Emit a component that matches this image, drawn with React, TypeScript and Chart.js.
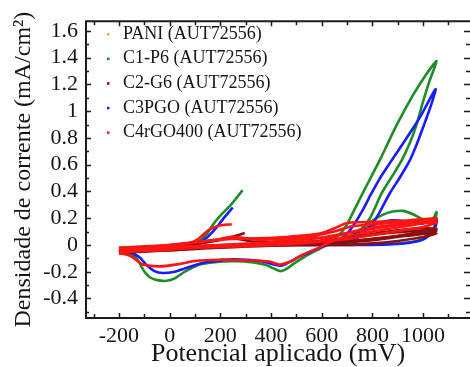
import React, { useEffect, useRef } from 'react';
import { Chart, registerables } from 'chart.js';

Chart.register(...registerables);

// ---------- axis values ----------
const X_TICKS = [-200, 0, 200, 400, 600, 800, 1000];
const X_MARKS = [-300, -200, -100, 0, 100, 200, 300, 400, 500, 600, 700, 800, 900, 1000, 1100];
const Y_TICKS = [-0.4, -0.2, 0, 0.2, 0.4, 0.6, 0.8, 1, 1.2, 1.4, 1.6];
const Y_MARKS = [-0.5, -0.4, -0.3, -0.2, -0.1, 0, 0.1, 0.2, 0.3, 0.4, 0.5, 0.6, 0.7, 0.8, 0.9, 1, 1.1, 1.2, 1.3, 1.4, 1.5, 1.6];
const X_MIN = -330;
const X_MAX = 1185;
const Y_MIN = -0.546;
const Y_MAX = 1.673;

// ---------- series names ----------
const SERIES = ['PANI (AUT72556)', 'C1-P6 (AUT72556)', 'C2-G6 (AUT72556)', 'C3PGO (AUT72556)', 'C4rGO400 (AUT72556)'];
const COLORS = ['#f2a24a', '#1e8c28', '#8a1010', '#1a1aff', '#ff1414'];

// ---------- data (mV, mA/cm²) ----------
// PANI curve is not visible in the figure (only its legend entry)
const PANI_CYCLE: number[][] = [];

const C1P6_CYCLE1 = [[-200,-0.035],[-150,-0.03],[-100,-0.028],[0,-0.02],[100,-0.012],[200,-0.005],[300,0.0],[400,0.005],[500,0.01],[600,0.015],[660,0.02],[700,0.03],[740,0.08],[790,0.2],[836,0.385],[880,0.52],[915,0.63],[947,0.76],[974,0.9],[998,1.06],[1026,1.23],[1053,1.375],[1014,1.28],[960,1.12],[894,0.89],[828,0.63],[761,0.385],[728,0.26],[700,0.155],[680,0.1],[655,0.05],[631,0.01],[590,-0.03],[540,-0.08],[490,-0.14],[455,-0.185],[435,-0.195],[410,-0.175],[380,-0.15],[330,-0.13],[250,-0.122],[180,-0.128],[118,-0.146],[60,-0.2],[20,-0.25],[-12,-0.268],[-50,-0.263],[-75,-0.245],[-95,-0.21],[-112,-0.16],[-130,-0.1],[-165,-0.062],[-200,-0.045]];
const C1P6_CYCLE2 = [[600,0.015],[650,0.03],[700,0.06],[740,0.1],[790,0.17],[840,0.225],[880,0.25],[920,0.255],[960,0.23],[990,0.2],[1015,0.18],[1040,0.2],[1053,0.245],[1040,0.12],[1000,0.05],[950,0.02],[880,0.01],[800,0.005],[700,0.005],[600,0.01]];
const C1P6_START = [[60,0.0],[118,0.03],[150,0.09],[170,0.15],[200,0.22],[237,0.29],[288,0.41]];

const C2G6_CYCLE1 = [[-200,-0.05],[-100,-0.045],[0,-0.04],[100,-0.03],[200,-0.02],[300,-0.012],[400,-0.006],[500,-0.002],[600,0.0],[700,0.0],[800,0.012],[900,0.03],[1000,0.06],[1053,0.085],[1000,0.085],[900,0.065],[800,0.045],[700,0.025],[600,0.012],[500,0.005],[400,0.0],[300,-0.005],[200,-0.01],[100,-0.02],[0,-0.03],[-100,-0.04],[-200,-0.05]];
const C2G6_CYCLE2 = [[-200,-0.045],[-100,-0.03],[0,-0.015],[100,0.005],[180,0.03],[230,0.05],[270,0.045],[330,0.025],[400,0.018],[500,0.018],[600,0.02],[700,0.02],[800,0.035],[900,0.06],[1000,0.085],[1053,0.105],[1000,0.11],[900,0.095],[800,0.075],[700,0.05],[600,0.03],[500,0.02],[400,0.012],[300,0.0],[200,-0.01],[100,-0.025],[0,-0.04],[-100,-0.05],[-200,-0.058]];
const C2G6_CYCLE3 = [[620,0.01],[720,0.03],[820,0.05],[920,0.075],[1000,0.1],[1053,0.12],[980,0.125],[900,0.11],[820,0.09],[740,0.06],[660,0.03],[620,0.015]];
const C2G6_START = [[230,0.05],[265,0.07],[296,0.09]];

const C3PGO_CYCLE1 = [[-200,-0.03],[-100,-0.03],[0,-0.025],[100,-0.02],[200,-0.012],[300,-0.008],[400,-0.004],[500,0.0],[600,0.0],[660,0.005],[700,0.02],[740,0.05],[770,0.1],[800,0.16],[830,0.25],[868,0.385],[910,0.51],[947,0.63],[974,0.75],[1006,0.91],[1034,1.06],[1049,1.165],[986,0.95],[935,0.8],[868,0.61],[830,0.5],[796,0.385],[760,0.255],[730,0.16],[700,0.085],[660,0.03],[620,0.0],[580,-0.03],[520,-0.08],[470,-0.13],[440,-0.155],[410,-0.145],[360,-0.12],[300,-0.11],[249,-0.108],[180,-0.12],[118,-0.14],[60,-0.175],[20,-0.2],[-28,-0.21],[-60,-0.195],[-91,-0.15],[-120,-0.09],[-160,-0.05],[-200,-0.035]];
const C3PGO_CYCLE2 = [[600,0.0],[700,0.05],[760,0.11],[820,0.16],[880,0.185],[940,0.175],[1000,0.16],[1053,0.19],[1040,0.1],[1000,0.04],[940,0.015],[880,0.005],[800,0.0],[700,0.0],[600,0.0]];
const C3PGO_START = [[40,0.0],[80,0.005],[118,0.02],[150,0.06],[180,0.12],[209,0.19],[249,0.28]];

const C4RGO_CYCLE1 = [[-200,-0.02],[-100,-0.01],[0,0.0],[50,0.01],[150,0.03],[250,0.045],[350,0.05],[461,0.06],[520,0.07],[592,0.085],[650,0.125],[700,0.165],[760,0.17],[850,0.175],[950,0.185],[1053,0.2],[1000,0.165],[900,0.13],[800,0.1],[700,0.065],[631,0.02],[590,-0.02],[525,-0.073],[480,-0.12],[434,-0.146],[394,-0.124],[300,-0.115],[197,-0.11],[100,-0.12],[30,-0.145],[-39,-0.16],[-106,-0.146],[-130,-0.115],[-150,-0.087],[-175,-0.07],[-200,-0.065]];
const C4RGO_CYCLE2 = [[-200,-0.045],[-100,-0.035],[0,-0.02],[100,-0.01],[200,0.0],[300,0.005],[400,0.01],[500,0.02],[600,0.035],[700,0.09],[800,0.13],[900,0.15],[1053,0.17],[1000,0.135],[900,0.105],[800,0.075],[700,0.045],[600,0.025],[500,0.01],[400,0.0],[300,-0.01],[200,-0.015],[100,-0.02],[0,-0.035],[-100,-0.045],[-200,-0.055]];
const C4RGO_CYCLE3 = [[-200,-0.03],[-100,-0.015],[0,0.0],[100,0.02],[200,0.045],[240,0.06],[280,0.055],[350,0.04],[450,0.045],[550,0.06],[650,0.1],[720,0.14],[850,0.16],[1053,0.185],[1000,0.17],[900,0.15],[800,0.12],[700,0.09],[600,0.055],[500,0.035],[400,0.02],[300,0.01],[200,0.0],[100,-0.01],[0,-0.02],[-100,-0.03],[-200,-0.04]];
const C4RGO_START = [[40,0.0],[67,0.007],[106,0.036],[130,0.073],[158,0.116],[197,0.145],[245,0.155]];

const SEGMENTS: number[][][][] = [
  [PANI_CYCLE],
  [C1P6_CYCLE1, C1P6_CYCLE2, C1P6_START],
  [C2G6_CYCLE1, C2G6_CYCLE2, C2G6_CYCLE3, C2G6_START],
  [C3PGO_CYCLE1, C3PGO_CYCLE2, C3PGO_START],
  [C4RGO_CYCLE1, C4RGO_CYCLE2, C4RGO_CYCLE3, C4RGO_START],
];
// drawing order: lower = on top
const DRAW_ORDER = [5, 4, 2, 3, 0];

const SERIF = '"Liberation Serif", "Times New Roman", serif';

const framePlugin = {
  id: 'frame',
  afterDatasetsDraw(chart: any) {
    const { ctx, chartArea } = chart;
    const { left, right, top, bottom } = chartArea;
    const xs = chart.scales.x;
    const ys = chart.scales.y;
    ctx.save();
    ctx.strokeStyle = '#1b1b1b';
    ctx.lineWidth = 2;
    ctx.beginPath();
    ctx.moveTo(right + 4, top);
    ctx.lineTo(left, top);
    ctx.lineTo(left, bottom);
    ctx.lineTo(right + 4, bottom);
    ctx.stroke();
    ctx.lineWidth = 1.5;
    ctx.beginPath();
    X_MARKS.forEach((v) => {
      const px = Math.round(xs.getPixelForValue(v)) + 0.5;
      const len = X_TICKS.includes(v) ? 5 : 4;
      ctx.moveTo(px, bottom);
      ctx.lineTo(px, bottom - len);
      ctx.moveTo(px, top);
      ctx.lineTo(px, top + len);
    });
    Y_MARKS.forEach((v) => {
      const py = Math.round(ys.getPixelForValue(v)) + 0.5;
      const major = Y_TICKS.some((t) => Math.abs(t - v) < 1e-6);
      const len = major ? 5 : 3;
      ctx.moveTo(left, py);
      ctx.lineTo(left + len, py);
      ctx.moveTo(right, py);
      ctx.lineTo(right - len - 1, py);
    });
    ctx.stroke();

    // legend
    ctx.font = `18px ${SERIF}`;
    ctx.textBaseline = 'middle';
    ctx.textAlign = 'left';
    SERIES.forEach((name, i) => {
      const y = 34 + i * 24.6;
      ctx.fillStyle = COLORS[i];
      ctx.fillRect(107, y - 1, 2.5, 2.5);
      ctx.fillStyle = '#151515';
      ctx.fillText(name, 123, y);
    });
    ctx.restore();
  },
};

export default function App() {
  const ref = useRef<HTMLCanvasElement | null>(null);

  useEffect(() => {
    if (!ref.current) return;
    const datasets: any[] = [];
    SEGMENTS.forEach((segs, si) => {
      segs.forEach((seg) => {
        datasets.push({
          label: SERIES[si],
          data: seg.map(([x, y]) => ({ x, y })),
          borderColor: COLORS[si],
          backgroundColor: COLORS[si],
          borderWidth: 2.6,
          showLine: true,
          pointRadius: 0,
          tension: 0.25,
          order: DRAW_ORDER[si],
        });
      });
    });

    const chart = new Chart(ref.current, {
      type: 'scatter',
      data: { datasets },
      options: {
        animation: false,
        responsive: false,
        devicePixelRatio: 1,
        layout: { padding: { top: 14, left: 0, right: 0, bottom: 0 } },
        plugins: { legend: { display: false }, tooltip: { enabled: false } },
        scales: {
          x: {
            type: 'linear',
            min: X_MIN,
            max: X_MAX,
            afterBuildTicks: (axis: any) => {
              axis.ticks = X_TICKS.map((value) => ({ value }));
            },
            afterFit: (s: any) => {
              s.height = 49;
            },
            grid: { display: false, drawTicks: false },
            border: { display: false },
            ticks: {
              autoSkip: false,
              maxRotation: 0,
              padding: 5,
              color: '#151515',
              font: { family: SERIF, size: 22 },
              callback: (v: any) => String(v),
            },
            title: {
              display: true,
              text: 'Potencial aplicado (mV)',
              color: '#151515',
              font: { family: SERIF, size: 26, lineHeight: 1 },
              padding: { top: 0, bottom: 0 },
            },
          },
          y: {
            type: 'linear',
            min: Y_MIN,
            max: Y_MAX,
            afterBuildTicks: (axis: any) => {
              axis.ticks = Y_TICKS.map((value) => ({ value }));
            },
            afterFit: (s: any) => {
              s.width = 86;
            },
            grid: { display: false, drawTicks: false },
            border: { display: false },
            ticks: {
              autoSkip: false,
              padding: 8,
              color: '#151515',
              font: { family: SERIF, size: 22 },
              callback: (v: any) => String(Number(Number(v).toFixed(1))),
            },
            title: {
              display: true,
              text: 'Densidade de corrente (mA/cm²)',
              color: '#151515',
              font: { family: SERIF, size: 24 },
              padding: { top: 9, bottom: 0 },
            },
          },
        },
      },
      plugins: [framePlugin],
    });
    return () => chart.destroy();
  }, []);

  return (
    <div style={{ position: 'fixed', left: 0, top: 0, width: 470, height: 367, background: '#fff' }}>
      <canvas ref={ref} width={470} height={367} style={{ display: 'block' }} />
    </div>
  );
}
